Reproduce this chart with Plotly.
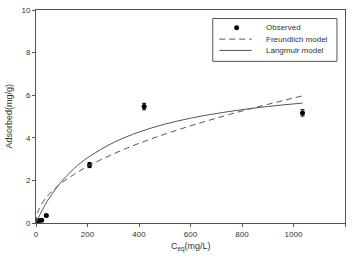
import plotly.graph_objects as go

# Observed data
obs_c = [1, 5, 12, 22, 40, 208, 420, 1035]
obs_q = [0.02, 0.08, 0.12, 0.13, 0.35, 2.72, 5.47, 5.17]
obs_err = [0.03, 0.03, 0.03, 0.03, 0.05, 0.12, 0.15, 0.15]

# Model curves
model_c = [0, 5, 10, 25, 50, 100, 150, 200, 300, 400, 500, 600, 700, 800, 900, 1035]
freundlich_q = [0, 0.43, 0.61, 0.95, 1.34, 1.89, 2.30, 2.66, 3.24, 3.74, 4.17, 4.56, 4.92, 5.26, 5.57, 5.97]
langmuir_q = [0, 0.13, 0.26, 0.62, 1.14, 1.96, 2.58, 3.06, 3.77, 4.27, 4.64, 4.92, 5.14, 5.32, 5.47, 5.63]

x_ticks = [0, 200, 400, 600, 800, 1000, 1200]
y_ticks = [0, 2, 4, 6, 8, 10]

legend_names = ["Observed", "Freundlich model", "Langmuir model"]

font = "Liberation Sans, Arial, sans-serif"
axis_col = "#555555"
text_col = "#333333"
line_col = "#555555"

fig = go.Figure()
fig.add_trace(go.Scatter(
    x=obs_c, y=obs_q, mode="markers", name=legend_names[0],
    marker=dict(color="black", size=5),
    error_y=dict(type="data", array=obs_err, color="black", thickness=1, width=2),
))
fig.add_trace(go.Scatter(
    x=model_c, y=freundlich_q, mode="lines", name=legend_names[1],
    line=dict(color=line_col, width=1, dash="6px,4px", shape="spline"),
))
fig.add_trace(go.Scatter(
    x=model_c, y=langmuir_q, mode="lines", name=legend_names[2],
    line=dict(color=line_col, width=1, shape="spline"),
))

# Hand-drawn legend box (paper coordinates)
shapes = [
    dict(type="rect", xref="paper", yref="paper", x0=0.572, x1=0.974, y0=0.759, y1=0.960,
         line=dict(color=axis_col, width=1), fillcolor="white", layer="above"),
    dict(type="circle", xref="paper", yref="paper", x0=0.6414, x1=0.6576, y0=0.905, y1=0.9283,
         line=dict(color="black", width=0), fillcolor="black", layer="above"),
    dict(type="line", xref="paper", yref="paper", x0=0.593, x1=0.698, y0=0.8633, y1=0.8633,
         line=dict(color=line_col, width=1, dash="6px,4px"), layer="above"),
    dict(type="line", xref="paper", yref="paper", x0=0.593, x1=0.698, y0=0.8103, y1=0.8103,
         line=dict(color=line_col, width=1), layer="above"),
]
row_y = [0.9166, 0.8633, 0.8103]
annotations = [
    dict(text=name, xref="paper", yref="paper", x=0.7388, y=yy, xanchor="left", yanchor="middle",
         showarrow=False, font=dict(size=8, color=text_col))
    for name, yy in zip(legend_names, row_y)
]
annotations += [
    dict(text="C<sub>eq</sub>(mg/L)", xref="paper", yref="paper", x=0.5, y=-0.112,
         xanchor="center", yanchor="middle", showarrow=False, font=dict(size=9, color=text_col)),
    dict(text="Adsorbed(mg/g)", xref="paper", yref="paper", x=-0.0906, y=0.5, textangle=-90,
         xanchor="center", yanchor="middle", showarrow=False, font=dict(size=9, color=text_col)),
]

fig.update_layout(
    width=354, height=259,
    margin=dict(l=36, r=9, t=9.5, b=36, autoexpand=False),
    paper_bgcolor="white", plot_bgcolor="white",
    font=dict(family=font, size=8, color=text_col),
    showlegend=False,
    shapes=shapes,
    annotations=annotations,
    xaxis=dict(
        range=[0, 1200], tickvals=x_ticks, showgrid=False, zeroline=False,
        showline=True, linecolor=axis_col, linewidth=1, mirror=True,
        ticks="outside", ticklen=3, tickcolor=axis_col, automargin=False,
    ),
    yaxis=dict(
        range=[0, 10], tickvals=y_ticks, showgrid=False, zeroline=False,
        showline=True, linecolor=axis_col, linewidth=1, mirror=True,
        ticks="outside", ticklen=3, tickcolor=axis_col, automargin=False,
    ),
)

fig.write_html("out.html")
